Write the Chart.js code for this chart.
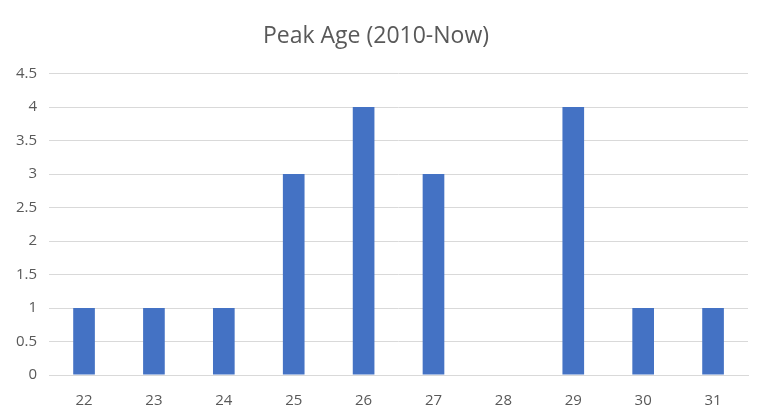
<!DOCTYPE html>
<html>
<head>
<meta charset="utf-8">
<script src="https://cdn.jsdelivr.net/npm/chart.js@4/dist/chart.umd.min.js"></script>
<style>
  html, body { margin: 0; padding: 0; background: #fff; }
  #wrap { width: 767px; height: 419px; }
</style>
</head>
<body>
<div id="wrap"><canvas id="G1"></canvas></div>
<script>
const ages = ['22', '23', '24', '25', '26', '27', '28', '29', '30', '31'];
const counts = [1, 1, 1, 3, 4, 3, 0, 4, 1, 1];
const yTicks = [0, 0.5, 1, 1.5, 2, 2.5, 3, 3.5, 4, 4.5];

const config = {
  type: 'bar',
  data: {
    labels: ages,
    datasets: [{
      label: 'Peak Age',
      data: counts,
      backgroundColor: '#4472C4',
      barPercentage: 0.31,
      categoryPercentage: 1.0
    }]
  },
  options: {
    animation: false,
    responsive: false,
    devicePixelRatio: 1,
    layout: { padding: { left: 4, right: 19, top: 8, bottom: 0 } },
    plugins: {
      legend: { display: false },
      tooltip: { enabled: false },
      title: {
        display: true,
        text: 'Peak Age (2010-Now)',
        color: '#595959',
        font: { family: 'Open Sans', size: 23, weight: 'normal' },
        padding: { top: 15, bottom: 23 }
      }
    },
    scales: {
      x: {
        grid: { display: false },
        border: { display: true, color: '#d9d9d9', width: 1 },
        ticks: { color: '#595959', font: { family: 'Open Sans', size: 15 }, padding: 9 }
      },
      y: {
        min: 0,
        max: 4.5,
        afterBuildTicks: axis => { axis.ticks = yTicks.map(v => ({ value: v })); },
        grid: { color: '#d9d9d9', drawTicks: false },
        border: { display: false },
        ticks: {
          color: '#595959',
          font: { family: 'Open Sans', size: 15 },
          padding: 12,
          callback: v => String(v)
        }
      }
    }
  }
};

const cv = document.getElementById('G1');
cv.width = 767; cv.height = 419;
new Chart(cv, config);
</script>
</body>
</html>
